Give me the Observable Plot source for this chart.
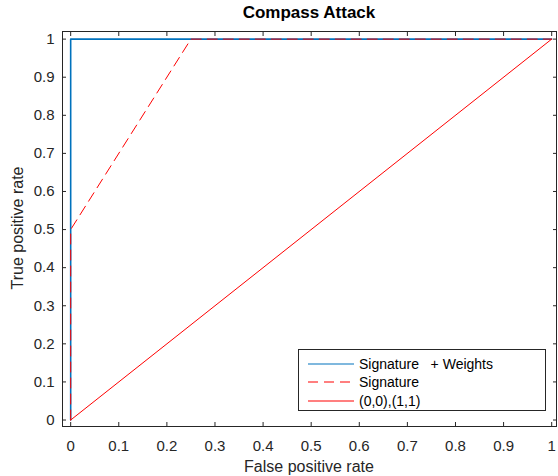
<!DOCTYPE html>
<html><head><meta charset="utf-8">
<script src="https://cdn.jsdelivr.net/npm/d3@7"></script>
<script src="https://cdn.jsdelivr.net/npm/@observablehq/plot@0.6"></script>
<style>
body{margin:0;background:#fff;font-family:"Liberation Sans",Arial,Helvetica,sans-serif;}
#wrap{position:relative;width:558px;height:476px;overflow:hidden;background:#fff}
#spacer{height:27px}
#title{position:absolute;left:309px;top:13px;transform:translate(-50%,-50%);font-weight:bold;font-size:17px;color:#000;white-space:nowrap}
.lab{position:absolute;font-size:16px;color:#262626;white-space:nowrap;transform:translate(-50%,-50%)}
#ylab{transform:translate(-50%,-50%) rotate(-90deg)}
#legend{position:absolute;left:298px;top:349px;width:248px;height:62px;box-sizing:border-box;border:1px solid #262626;background:#fff}
.row{position:absolute;left:0;width:100%;height:18px}
.row svg{position:absolute;left:9px;top:0}
.row span{position:absolute;left:60px;top:0;line-height:18px;font-size:14px;color:#000;white-space:pre}
</style>
</head><body>
<div id="wrap">
<div id="spacer"></div>
<div id="chart"></div>
<div id="title">Compass Attack</div>
<div class="lab" id="xlab" style="left:309px;top:467px">False positive rate</div>
<div class="lab" id="ylab" style="left:18px;top:228px">True positive rate</div>
<div id="legend"></div>
</div>
<script>
// Data
const fprSigWeights = [0, 0, 1];
const tprSigWeights = [0, 1, 1];
const fprSig = [0, 0, 0.25, 1];
const tprSig = [0, 0.5, 1, 1];
const fprDiag = [0, 1];
const tprDiag = [0, 1];
const xTicks = [0, 0.1, 0.2, 0.3, 0.4, 0.5, 0.6, 0.7, 0.8, 0.9, 1];
const yTicks = [0, 0.1, 0.2, 0.3, 0.4, 0.5, 0.6, 0.7, 0.8, 0.9, 1];
const seriesNames = ["Signature   + Weights", "Signature", "(0,0),(1,1)"];
const seriesColors = ["#0072BD", "#FF0000", "#FF0000"];
const seriesDash = [null, "10,6", null];

const toRows = (xs, ys) => xs.map((x, i) => ({x, y: ys[i]}));
const axisColor = "#262626";
const font = '"Liberation Sans", Arial, Helvetica, sans-serif';

const chart = Plot.plot({
  width: 558, height: 449,
  marginLeft: 62, marginRight: 2, marginTop: 4, marginBottom: 50,
  style: {fontFamily: font, fontSize: "15px", color: axisColor, background: "white"},
  x: {domain: [-0.017, 1.01]},
  y: {domain: [-0.017, 1.02]},
  marks: [
    Plot.line(toRows(fprSigWeights, tprSigWeights), {x: "x", y: "y", stroke: seriesColors[0], strokeWidth: 1.6}),
    Plot.line(toRows(fprSig, tprSig), {x: "x", y: "y", stroke: seriesColors[1], strokeWidth: 1, strokeDasharray: seriesDash[1]}),
    Plot.line(toRows(fprDiag, tprDiag), {x: "x", y: "y", stroke: seriesColors[2], strokeWidth: 1}),
    Plot.frame({stroke: axisColor, strokeWidth: 1}),
    Plot.axisX(xTicks, {anchor: "bottom", tickSize: -4, tickPadding: 18, tickFormat: d => String(d), label: null, stroke: axisColor}),
    Plot.axisX(xTicks, {anchor: "top", tickSize: -4, tickFormat: () => "", label: null, stroke: axisColor}),
    Plot.axisY(yTicks, {anchor: "left", tickSize: -4, tickPadding: 12, tickFormat: d => String(d), label: null, stroke: axisColor}),
    Plot.axisY(yTicks, {anchor: "right", tickSize: -4, tickFormat: () => "", label: null, stroke: axisColor})
  ]
});
document.getElementById("chart").appendChild(chart);

// Legend
const legend = document.getElementById("legend");
const rowTops = [4.5, 22.5, 41.5];
seriesNames.forEach((name, i) => {
  const row = document.createElement("div");
  row.className = "row";
  row.style.top = rowTops[i] + "px";
  const dash = seriesDash[i] ? ` stroke-dasharray="${seriesDash[i]}"` : "";
  row.innerHTML = `<svg width="47" height="18"><line x1="0" y1="9" x2="46" y2="9" stroke="${seriesColors[i]}" stroke-width="1.2"${dash}/></svg><span>${name}</span>`;
  legend.appendChild(row);
});
</script>
</body></html>
